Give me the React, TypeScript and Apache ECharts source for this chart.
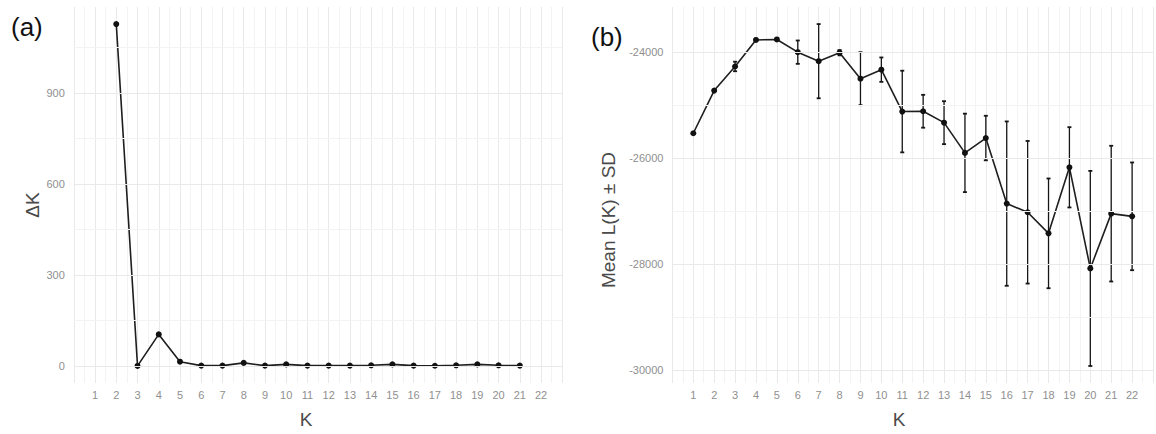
import React, { useEffect, useRef } from 'react';
import * as echarts from 'echarts';

// Panel (a): Delta K by K
const kDelta = [2, 3, 4, 5, 6, 7, 8, 9, 10, 11, 12, 13, 14, 15, 16, 17, 18, 19, 20, 21];
const deltaK = [1128, 0, 104, 14, 1, 1, 10, 1, 5, 1, 1, 1, 2, 5, 1, 0.5, 2, 5, 2, 1];

// Panel (b): mean L(K) +/- SD by K
const kMean = [1, 2, 3, 4, 5, 6, 7, 8, 9, 10, 11, 12, 13, 14, 15, 16, 17, 18, 19, 20, 21, 22];
const meanL = [-25530, -24725, -24270, -23770, -23760, -24000, -24170, -24010, -24500, -24330, -25120, -25115, -25330, -25900, -25620, -26857, -27020, -27418, -26172, -28080, -27046, -27097];
const sdL = [0, 0, 90, 0, 0, 220, 700, 50, 500, 230, 770, 310, 405, 740, 420, 1550, 1345, 1035, 757, 1840, 1280, 1016];

// Tick values
const xTicks = [1, 2, 3, 4, 5, 6, 7, 8, 9, 10, 11, 12, 13, 14, 15, 16, 17, 18, 19, 20, 21, 22];
const yTicksA = [0, 300, 600, 900];
const yMinorA = [150, 450, 750, 1050];
const yTicksB = [-30000, -28000, -26000, -24000];
const yMinorB = [-29000, -27000, -25000];

const FONT = '"Liberation Sans", Arial, sans-serif';
const MAJOR = '#e9e9e9';
const MINOR = '#f3f3f3';
const TICK_COLOR = '#8f8f8f';
const TITLE_COLOR = '#4a4a4a';

function gridLines(values: number[], color: string) {
  return values.map((v) => ({ yAxis: v, lineStyle: { color, width: 1, type: 'solid' } }));
}

export default function App() {
  const ref = useRef<HTMLDivElement>(null);
  useEffect(() => {
    if (!ref.current) return;
    const chart = echarts.init(ref.current, undefined, { renderer: 'svg' });

    const xAxisCommon = (gridIndex: number) => ({
      type: 'value',
      gridIndex,
      min: 0,
      max: 23,
      interval: 1,
      axisLine: { show: false },
      axisTick: { show: false },
      axisLabel: {
        color: TICK_COLOR,
        fontSize: 11,
        fontFamily: FONT,
        margin: 6,
        formatter: (v: number) => (xTicks.indexOf(v) >= 0 ? String(v) : ''),
      },
      splitLine: { show: true, lineStyle: { color: MAJOR, width: 1 } },
      minorTick: { show: false, splitNumber: 2 },
      minorSplitLine: { show: true, lineStyle: { color: MINOR, width: 1 } },
    });

    const errData = kMean
      .map((k, i) => [k, meanL[i] - sdL[i], meanL[i] + sdL[i], sdL[i]])
      .filter((d) => d[3] > 0);

    const yLabel = (values: number[]) => ({
      customValues: values,
      color: TICK_COLOR,
      fontSize: 11,
      fontFamily: FONT,
      margin: 9,
      formatter: (v: number) => String(v),
    });

    const option: any = {
      animation: false,
      backgroundColor: '#ffffff',
      grid: [
        { left: 73.8, top: 7, width: 488.5, height: 376 },
        { left: 672.4, top: 7, width: 488.8, height: 376 },
      ],
      xAxis: [xAxisCommon(0), xAxisCommon(1)],
      yAxis: [
        {
          type: 'value',
          gridIndex: 0,
          min: -56.4,
          max: 1184.4,
          axisLine: { show: false },
          axisTick: { show: false, customValues: yTicksA },
          splitLine: { show: false },
          axisLabel: yLabel(yTicksA),
        },
        {
          type: 'value',
          gridIndex: 1,
          min: -30241,
          max: -23148,
          axisLine: { show: false },
          axisTick: { show: false, customValues: yTicksB },
          splitLine: { show: false },
          axisLabel: yLabel(yTicksB),
        },
      ],
      series: [
        {
          type: 'line',
          xAxisIndex: 0,
          yAxisIndex: 0,
          data: [],
          z: 0,
          silent: true,
          markLine: {
            silent: true,
            symbol: 'none',
            label: { show: false },
            animation: false,
            data: [...gridLines(yMinorA, MINOR), ...gridLines(yTicksA, MAJOR)],
          },
        },
        {
          type: 'line',
          xAxisIndex: 1,
          yAxisIndex: 1,
          data: [],
          z: 0,
          silent: true,
          markLine: {
            silent: true,
            symbol: 'none',
            label: { show: false },
            animation: false,
            data: [...gridLines(yMinorB, MINOR), ...gridLines(yTicksB, MAJOR)],
          },
        },
        {
          type: 'line',
          xAxisIndex: 0,
          yAxisIndex: 0,
          data: kDelta.map((k, i) => [k, deltaK[i]]),
          symbol: 'circle',
          symbolSize: 6,
          itemStyle: { color: '#111111', borderWidth: 0 },
          lineStyle: { color: '#1e1e1e', width: 1.6 },
          z: 3,
        },
        {
          type: 'custom',
          xAxisIndex: 1,
          yAxisIndex: 1,
          data: errData,
          z: 2,
          renderItem: (params: any, api: any) => {
            const x = api.value(0);
            const lo = api.value(1);
            const hi = api.value(2);
            const pTop = api.coord([x, hi]);
            const pBot = api.coord([x, lo]);
            const cap = 2;
            const style = { stroke: '#161616', lineWidth: 1.3 };
            const capStyle = { stroke: '#161616', lineWidth: 1.8 };
            return {
              type: 'group',
              children: [
                { type: 'line', shape: { x1: pTop[0], y1: pTop[1], x2: pBot[0], y2: pBot[1] }, style },
                { type: 'line', shape: { x1: pTop[0] - cap, y1: pTop[1], x2: pTop[0] + cap, y2: pTop[1] }, style: capStyle },
                { type: 'line', shape: { x1: pBot[0] - cap, y1: pBot[1], x2: pBot[0] + cap, y2: pBot[1] }, style: capStyle },
              ],
            };
          },
        },
        {
          type: 'line',
          xAxisIndex: 1,
          yAxisIndex: 1,
          data: kMean.map((k, i) => [k, meanL[i]]),
          symbol: 'circle',
          symbolSize: 6,
          itemStyle: { color: '#111111', borderWidth: 0 },
          lineStyle: { color: '#1e1e1e', width: 1.6 },
          z: 3,
        },
      ],
      graphic: [
        { type: 'text', left: 11, top: 14, style: { text: '(a)', font: `26px ${FONT}`, fill: '#111111' } },
        { type: 'text', left: 591, top: 24, style: { text: '(b)', font: `26px ${FONT}`, fill: '#111111' } },
        {
          type: 'text',
          x: 32,
          y: 205,
          rotation: Math.PI / 2,
          style: { text: 'ΔK', font: `19px ${FONT}`, fill: TITLE_COLOR, textAlign: 'center', textVerticalAlign: 'middle' },
        },
        {
          type: 'text',
          x: 608,
          y: 220,
          rotation: Math.PI / 2,
          style: { text: 'Mean L(K) ± SD', font: `19px ${FONT}`, fill: TITLE_COLOR, textAlign: 'center', textVerticalAlign: 'middle' },
        },
        {
          type: 'text',
          x: 306,
          y: 419,
          style: { text: 'K', font: `19px ${FONT}`, fill: TITLE_COLOR, textAlign: 'center', textVerticalAlign: 'middle' },
        },
        {
          type: 'text',
          x: 899,
          y: 419,
          style: { text: 'K', font: `19px ${FONT}`, fill: TITLE_COLOR, textAlign: 'center', textVerticalAlign: 'middle' },
        },
      ],
    };
    chart.setOption(option);
    return () => chart.dispose();
  }, []);
  return <div ref={ref} style={{ position: 'absolute', left: 0, top: 0, width: 1156, height: 434 }} />;
}
